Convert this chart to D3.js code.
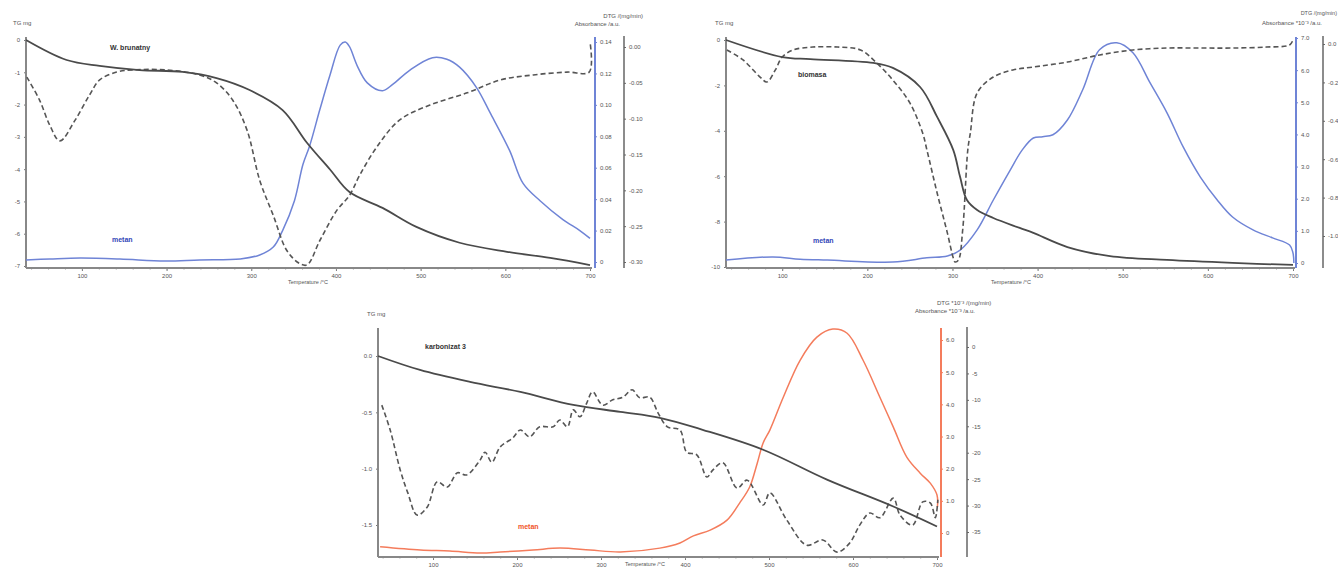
<!DOCTYPE html>
<html>
<head>
<meta charset="utf-8">
<script src="https://cdn.jsdelivr.net/npm/d3@7"></script>
<style>
  body { margin: 0; background: #fff; }
  text { font-family: "Liberation Sans", Arial, sans-serif; }
</style>
</head>
<body>
<svg id="chart" width="1338" height="568"></svg>
<script>
// temperature axis, same for all three panels
var tempTicks = [100, 200, 300, 400, 500, 600, 700];
var tempMinor = d3.range(40, 701, 20);

// ---- W. brunatny : [temperature, value]
var wbTg = [[34,0],[82,-0.62],[121,-0.80],[168,-0.93],[219,-0.99],[259,-1.18],[298,-1.55],
  [337,-2.17],[366,-3.19],[393,-4.01],[416,-4.71],[455,-5.2],[495,-5.79],[546,-6.28],
  [602,-6.56],[653,-6.75],[700,-6.97]];
var wbDtg = [[35,-0.042],[50,-0.074],[62,-0.109],[74,-0.131],[92,-0.102],[109,-0.067],
  [121,-0.046],[141,-0.035],[160,-0.032],[200,-0.032],[239,-0.039],[259,-0.050],[278,-0.074],
  [295,-0.116],[310,-0.186],[326,-0.235],[342,-0.284],[357,-0.302],[366,-0.304],[381,-0.270],
  [401,-0.228],[416,-0.207],[428,-0.179],[448,-0.140],[475,-0.102],[511,-0.081],[555,-0.064],
  [594,-0.046],[633,-0.039],[673,-0.035],[699,-0.035],[700,0.007]];
var wbMetan = [[34,0.0013],[62,0.0019],[98,0.0025],[145,0.0019],[198,0.0006],[239,0.0013],
  [287,0.0019],[310,0.0045],[326,0.0095],[337,0.020],[351,0.039],[361,0.062],[369,0.074],
  [381,0.097],[393,0.119],[405,0.138],[411,0.140],[416,0.137],[425,0.125],[437,0.114],
  [455,0.109],[467,0.113],[487,0.122],[514,0.130],[531,0.129],[546,0.124],[566,0.111],
  [582,0.095],[605,0.071],[621,0.050],[641,0.039],[668,0.027],[688,0.020],[700,0.015]];
var wbTgTicks = [0, -1, -2, -3, -4, -5, -6, -7];
var wbAbsTicks = [0, 0.02, 0.04, 0.06, 0.08, 0.10, 0.12, 0.14];
var wbDtgTicks = [0, -0.05, -0.10, -0.15, -0.20, -0.25, -0.30];

// ---- biomasa
var bmTg = [[34,0],[100,-0.75],[133,-0.84],[207,-1.01],[230,-1.23],[262,-2.07],[282,-3.39],
  [301,-4.85],[309,-6.04],[317,-7.05],[329,-7.49],[348,-7.84],[379,-8.28],[395,-8.50],
  [435,-9.12],[485,-9.52],[552,-9.69],[629,-9.82],[700,-9.91]];
var bmDtg = [[35,-0.031],[54,-0.083],[74,-0.172],[82,-0.198],[92,-0.135],[100,-0.068],
  [113,-0.031],[136,-0.016],[165,-0.016],[192,-0.031],[211,-0.099],[230,-0.188],[250,-0.307],
  [265,-0.464],[270,-0.552],[282,-0.776],[294,-0.984],[301,-1.115],[303,-1.135],[307,-1.125],
  [312,-0.969],[318,-0.552],[321,-0.464],[329,-0.255],[348,-0.172],[371,-0.135],[395,-0.120],
  [435,-0.094],[473,-0.057],[512,-0.031],[552,-0.021],[591,-0.021],[629,-0.021],[669,-0.016],
  [696,-0.005],[700,0.021]];
var bmMetan = [[34,0.09],[89,0.19],[121,0.12],[153,0.09],[230,0.03],[270,0.16],[294,0.22],
  [309,0.40],[329,1.03],[348,1.96],[368,2.90],[382,3.52],[395,3.89],[406,3.93],[418,3.99],
  [435,4.45],[453,5.39],[473,6.64],[493,6.85],[512,6.54],[532,5.61],[552,4.67],[571,3.61],
  [591,2.68],[611,1.96],[629,1.43],[653,1.03],[676,0.78],[696,0.56],[700,0.31],[701,0.0]];
var bmTgTicks = [0, -2, -4, -6, -8, -10];
var bmAbsTicks = [0, 1, 2, 3, 4, 5, 6, 7];
var bmDtgTicks = [0, -0.2, -0.4, -0.6, -0.8, -1.0];

// ---- karbonizat 3
var kzTg = [[34.5,0],[84.5,-0.124],[144,-0.23],[204,-0.319],[267,-0.434],[323,-0.496],
  [370,-0.549],[421,-0.655],[493,-0.832],[569,-1.097],[648,-1.336],[700,-1.513]];
var kzDtg = [[39,-11.0],[49,-15.7],[61,-23.3],[70,-27.6],[81,-31.8],[93,-30.3],[105,-25.5],
  [117,-26.5],[129,-23.8],[140,-24.2],[156,-21.4],[162,-19.9],[170,-21.8],[180,-18.9],
  [195,-17.2],[204,-15.7],[215,-17.0],[227,-15.1],[243,-15.1],[251,-13.8],[260,-15.1],
  [267,-11.9],[275,-13.2],[283,-10.6],[290,-8.5],[302,-11.0],[314,-10.0],[326,-9.5],
  [337,-8.1],[346,-9.6],[358,-9.5],[368,-12.5],[379,-15.1],[394,-15.7],[402,-19.9],
  [414,-20.4],[426,-24.6],[433,-23.3],[445,-21.9],[462,-26.7],[474,-25.2],[493,-29.9],
  [501,-27.6],[521,-32.7],[545,-37.5],[564,-36.5],[581,-38.8],[596,-37.1],[608,-33.7],
  [620,-31.4],[632,-32.3],[648,-28.6],[656,-31.8],[671,-33.7],[683,-29.3],[692,-29.5],
  [698,-32.3],[701,-28.9]];
var kzMetan = [[37,-0.43],[85,-0.53],[120,-0.56],[156,-0.62],[180,-0.59],[219,-0.53],
  [251,-0.47],[287,-0.53],[323,-0.59],[370,-0.47],[394,-0.31],[410,-0.09],[430,0.09],
  [450,0.40],[465,0.93],[477,1.43],[486,2.17],[493,2.80],[501,3.20],[517,4.22],[537,5.37],
  [557,6.09],[576,6.34],[593,6.21],[612,5.37],[632,4.22],[648,3.29],[664,2.36],[680,1.86],
  [692,1.55],[700,1.18],[700.5,0.81]];
var kzTgTicks = [0, -0.5, -1.0, -1.5];
var kzAbsTicks = [0, 1, 2, 3, 4, 5, 6];
var kzDtgTicks = [0, -5, -10, -15, -20, -25, -30, -35];

var svg = d3.select("#chart");

function spine(g, x1, y1, x2, y2, color, w) {
  g.append("line").attr("x1", x1).attr("y1", y1).attr("x2", x2).attr("y2", y2)
    .attr("stroke", color).attr("stroke-width", w);
}

function styleAxis(sel, color) {
  sel.select(".domain").remove();
  sel.selectAll(".tick line").attr("stroke", color);
  sel.selectAll(".tick text").attr("fill", "#555").style("font-size", "6px");
}

function label(g, x, y, txt, opts) {
  opts = opts || {};
  g.append("text").attr("x", x).attr("y", y)
    .attr("text-anchor", opts.anchor || "start")
    .attr("fill", opts.color || "#555")
    .style("font-size", (opts.size || 6) + "px")
    .style("font-weight", opts.bold ? "bold" : "normal")
    .text(txt);
}

function panel(o) {
  var g = svg.append("g");
  var x = d3.scaleLinear().domain(o.xDomain).range([o.left, o.right]);
  var yTg = d3.scaleLinear().domain(o.tgDomain).range(o.tgRange);
  var yAbs = d3.scaleLinear().domain(o.absDomain).range(o.absRange);
  var yDtg = d3.scaleLinear().domain(o.dtgDomain).range(o.dtgRange);

  // x axis
  var xa = g.append("g").attr("transform", "translate(0," + o.bottom + ")")
    .call(d3.axisBottom(x).tickValues(tempTicks).tickSize(3).tickPadding(3).tickFormat(d3.format("d")));
  styleAxis(xa, "#777");
  var xm = g.append("g").attr("transform", "translate(0," + o.bottom + ")")
    .call(d3.axisBottom(x).tickValues(tempMinor).tickSize(1.5).tickFormat(""));
  styleAxis(xm, "#999");
  spine(g, o.left, o.bottom, o.right + 2, o.bottom, "#888", 2);

  // TG axis (left)
  var ya = g.append("g").attr("transform", "translate(" + o.left + ",0)")
    .call(d3.axisLeft(yTg).tickValues(o.tgTicks).tickSize(2).tickPadding(4).tickFormat(o.tgFmt));
  styleAxis(ya, "#777");
  spine(g, o.left, o.top, o.left, o.bottom, "#888", 2);

  // absorbance axis
  var aa = g.append("g").attr("transform", "translate(" + o.absX + ",0)")
    .call(d3.axisRight(yAbs).tickValues(o.absTicks).tickSize(2).tickPadding(3).tickFormat(o.absFmt));
  styleAxis(aa, o.absColor);
  spine(g, o.absX, o.top, o.absX, o.bottom, o.absColor, 2);

  // DTG axis
  var da = g.append("g").attr("transform", "translate(" + o.dtgX + ",0)")
    .call(d3.axisRight(yDtg).tickValues(o.dtgTicks).tickSize(2).tickPadding(3).tickFormat(o.dtgFmt));
  styleAxis(da, "#666");
  spine(g, o.dtgX, o.top - 1, o.dtgX, o.bottom, "#666", 1.5);

  // curves
  var smooth = d3.curveCatmullRom.alpha(0.5);
  g.append("path").datum(o.metan)
    .attr("fill", "none").attr("stroke", o.absColor).attr("stroke-width", 1.5)
    .attr("d", d3.line().curve(smooth).x(function(d) { return x(d[0]); }).y(function(d) { return yAbs(d[1]); }));
  g.append("path").datum(o.dtg)
    .attr("fill", "none").attr("stroke", "#555").attr("stroke-width", 1.6)
    .attr("stroke-dasharray", "5,3")
    .attr("d", d3.line().curve(smooth).x(function(d) { return x(d[0]); }).y(function(d) { return yDtg(d[1]); }));
  g.append("path").datum(o.tg)
    .attr("fill", "none").attr("stroke", "#4a4a4a").attr("stroke-width", 1.8)
    .attr("d", d3.line().curve(smooth).x(function(d) { return x(d[0]); }).y(function(d) { return yTg(d[1]); }));

  // texts
  label(g, o.tgTitle[0], o.tgTitle[1], "TG mg");
  label(g, o.dtgTitle[0], o.dtgTitle[1], o.dtgTitle[2], {anchor: o.dtgTitle[3], size: o.dtgTitle[4]});
  label(g, o.absTitle[0], o.absTitle[1], o.absTitle[2], {anchor: o.absTitle[3]});
  label(g, o.name[0], o.name[1], o.name[2], {bold: true, size: 7, color: "#333"});
  label(g, o.metanPos[0], o.metanPos[1], "metan", {bold: true, size: 7, color: o.metanColor});
  label(g, o.xTitle[0], o.xTitle[1], "Temperature /\u00b0C", {anchor: "middle", size: 5.5});
}

var plain = function(d) { return String(d); };
var fix = function(n) { return function(d) { return d === 0 ? "0" : d.toFixed(n); }; };

panel({
  left: 26, right: 590, top: 37, bottom: 268, xDomain: [34, 700],
  tgDomain: [-7, 0], tgRange: [266, 40], tgTicks: wbTgTicks, tgFmt: plain,
  absX: 595, absDomain: [0, 0.14], absRange: [262, 42], absTicks: wbAbsTicks, absFmt: fix(2),
  dtgX: 624, dtgDomain: [-0.3, 0], dtgRange: [262, 47], dtgTicks: wbDtgTicks,
  dtgFmt: function(d) { return d.toFixed(2); },
  absColor: "#6f84d6", metanColor: "#3346b8",
  tg: wbTg, dtg: wbDtg, metan: wbMetan,
  tgTitle: [13, 25], dtgTitle: [643, 18, "DTG /(mg/min)", "end", 6],
  absTitle: [620, 26, "Absorbance /a.u.", "end"],
  name: [110, 50, "W. brunatny"], metanPos: [112, 242], xTitle: [308, 284]
});

panel({
  left: 726, right: 1293, top: 37, bottom: 268, xDomain: [34, 700],
  tgDomain: [-10, 0], tgRange: [267, 40], tgTicks: bmTgTicks, tgFmt: plain,
  absX: 1296, absDomain: [0, 7], absRange: [263, 38], absTicks: bmAbsTicks, absFmt: fix(1),
  dtgX: 1323, dtgDomain: [-1, 0], dtgRange: [236, 44], dtgTicks: bmDtgTicks,
  dtgFmt: function(d) { return d.toFixed(1); },
  absColor: "#6f84d6", metanColor: "#3346b8",
  tg: bmTg, dtg: bmDtg, metan: bmMetan,
  tgTitle: [715, 25], dtgTitle: [1337, 15, "DTG /(mg/min)", "end", 5.5],
  absTitle: [1322, 25, "Absorbance *10\u207b\u00b3 /a.u.", "end"],
  name: [798, 77, "biomasa"], metanPos: [813, 243], xTitle: [1011, 284]
});

panel({
  left: 378, right: 937, top: 328, bottom: 557, xDomain: [34.5, 700],
  tgDomain: [-1.5, 0], tgRange: [525, 356], tgTicks: kzTgTicks,
  tgFmt: function(d) { return d.toFixed(1); },
  absX: 941, absDomain: [0, 6], absRange: [533, 340], absTicks: kzAbsTicks, absFmt: fix(1),
  dtgX: 967, dtgDomain: [-35, 0], dtgRange: [532, 347], dtgTicks: kzDtgTicks, dtgFmt: plain,
  absColor: "#f47c5c", metanColor: "#f0532a",
  tg: kzTg, dtg: kzDtg, metan: kzMetan,
  tgTitle: [367, 316], dtgTitle: [937, 305, "DTG *10\u207b\u00b3 /(mg/min)", "start", 6],
  absTitle: [975, 313, "Absorbance *10\u207b\u00b3 /a.u.", "end"],
  name: [425, 349, "karbonizat 3"], metanPos: [518, 529], xTitle: [645, 566]
});
</script>
</body>
</html>
